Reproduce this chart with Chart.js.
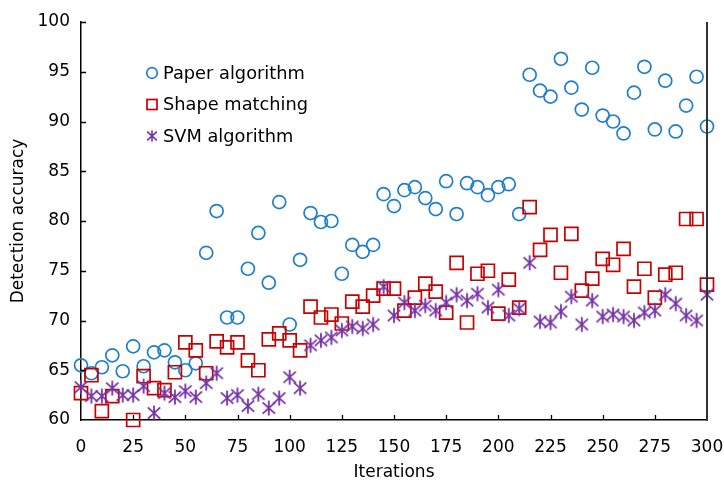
<!DOCTYPE html>
<html>
<head>
<meta charset="utf-8">
<script src="https://cdn.jsdelivr.net/npm/chart.js@4.4.1/dist/chart.umd.min.js"></script>
<style>
  html, body { margin: 0; padding: 0; background: #fff; }
  #wrap { width: 724px; height: 480px; position: relative; }
</style>
</head>
<body>
<div id="wrap"><canvas id="c" width="724" height="480"></canvas></div>
<script>
// ---- data ----
const iterations = [0,5,10,15,20,25,30,35,40,45,50,55,60,65,70,75,80,85,90,95,100,105,110,115,120,125,130,135,140,145,150,155,160,165,170,175,180,185,190,195,200,205,210,215,220,225,230,235,240,245,250,255,260,265,270,275,280,285,290,295,300];
const paperAlgorithm = [65.5,64.7,65.3,66.5,64.9,67.4,65.4,66.8,67.0,65.8,65.0,65.7,76.8,81.0,70.3,70.3,75.2,78.8,73.8,81.9,69.6,76.1,80.8,79.9,80.0,74.7,77.6,76.9,77.6,82.7,81.5,83.1,83.4,82.3,81.2,84.0,80.7,83.8,83.4,82.6,83.4,83.7,80.7,94.7,93.1,92.5,96.3,93.4,91.2,95.4,90.6,90.0,88.8,92.9,95.5,89.2,94.1,89.0,91.6,94.5,89.5];
const shapeMatching = [62.7,64.5,60.9,62.4,null,60.0,64.4,63.2,63.0,64.8,67.8,67.0,64.7,67.9,67.3,67.8,66.0,65.0,68.1,68.7,68.0,67.0,71.4,70.3,70.6,69.7,71.9,71.4,72.5,73.2,73.2,71.0,72.3,73.7,72.9,70.8,75.8,69.8,74.7,75.0,70.7,74.1,71.3,81.4,77.1,78.6,74.8,78.7,73.0,74.2,76.2,75.6,77.2,73.4,75.2,72.3,74.6,74.8,80.2,80.2,73.6];
const svmAlgorithm = [63.3,62.4,62.4,63.2,62.5,62.5,63.4,60.7,62.7,62.3,62.9,62.3,63.7,64.7,62.2,62.5,61.4,62.6,61.2,62.2,64.3,63.2,67.5,68.0,68.3,69.0,69.4,69.2,69.6,73.4,70.5,71.8,71.0,71.5,71.0,71.8,72.6,72.0,72.7,71.3,73.1,70.5,71.2,75.8,69.9,69.8,70.9,72.4,69.6,72.0,70.4,70.6,70.4,70.0,70.8,71.0,72.6,71.7,70.5,70.0,72.6];
const seriesNames = ['Paper algorithm','Shape matching','SVM algorithm'];
const xTicks = [0,25,50,75,100,125,150,175,200,225,250,275,300];
const yTicks = [60,65,70,75,80,85,90,95,100];

const BLUE = '#1f7fcc', RED = '#c80000', PURPLE = '#7433a6';
const FONT = 'DejaVu Sans';

function toPoints(vals){ return iterations.map((x,i)=>({x:x, y:vals[i]})); }

function makeStar(size, r, dx, dy, color, lw){
  const c = document.createElement('canvas');
  c.width = size; c.height = size;
  const g = c.getContext('2d');
  const m = size/2;
  g.strokeStyle = color; g.lineWidth = lw; g.lineCap = 'butt';
  g.beginPath();
  g.moveTo(m, m - r); g.lineTo(m, m + r);
  g.moveTo(m - dx, m - dy); g.lineTo(m + dx, m + dy);
  g.moveTo(m + dx, m - dy); g.lineTo(m - dx, m + dy);
  g.stroke();
  return c;
}
const starBig = makeStar(18, 7.5, 6.2, 5.6, PURPLE, 1.8);
const starSmall = makeStar(14, 5.8, 4.8, 4.3, PURPLE, 1.6);

function zeroPad(s){ s.paddingLeft = 0; s.paddingRight = 0; s.paddingTop = 0; s.paddingBottom = 0; }

const frame = {
  id: 'frame',
  afterDraw(chart){
    const {ctx, chartArea:a, scales} = chart;
    ctx.save();
    // right spine
    ctx.strokeStyle = '#333'; ctx.lineWidth = 2;
    ctx.beginPath(); ctx.moveTo(a.right, a.top); ctx.lineTo(a.right, a.bottom+0.75); ctx.stroke();
    // inward ticks
    ctx.strokeStyle = '#000'; ctx.lineWidth = 1.3;
    ctx.beginPath();
    scales.x.ticks.forEach(t => {
      const px = Math.round(scales.x.getPixelForValue(t.value)) + 0.5;
      if (t.value === 0 || t.value === 300) return;
      ctx.moveTo(px, a.bottom); ctx.lineTo(px, a.bottom - 5);
    });
    scales.y.ticks.forEach(t => {
      const py = Math.round(scales.y.getPixelForValue(t.value)) + 0.5;
      if (t.value === 60) return;
      ctx.moveTo(a.left, py); ctx.lineTo(a.left + 5, py);
    });
    ctx.stroke();
    // legend
    const lx = a.left + 71, ly0 = a.top + 51, dy = 31.5;
    ctx.font = '17.8px "' + FONT + '"';
    ctx.textBaseline = 'middle'; ctx.fillStyle = '#000';
    chart.data.datasets.forEach((ds, i) => {
      const y = ly0 + i*dy;
      if (i === 0){
        ctx.strokeStyle = BLUE; ctx.lineWidth = 1.7;
        ctx.beginPath(); ctx.arc(lx, y, 5.3, 0, Math.PI*2); ctx.stroke();
      } else if (i === 1){
        ctx.strokeStyle = RED; ctx.lineWidth = 1.7;
        ctx.strokeRect(lx - 5, y - 5, 10, 10);
      } else {
        ctx.drawImage(starSmall, lx - 7, y - 7);
      }
      ctx.fillText(ds.label, lx + 11, y + 1);
    });
    ctx.restore();
  }
};

new Chart(document.getElementById('c'), {
  type: 'scatter',
  data: {
    datasets: [
      { label: seriesNames[0], data: toPoints(paperAlgorithm), pointStyle: 'circle', pointRadius: 6.5, pointHoverRadius: 6.5,
        borderColor: BLUE, backgroundColor: 'rgba(0,0,0,0)', pointBorderWidth: 1.7, order: 3, clip: false },
      { label: seriesNames[1], data: toPoints(shapeMatching), pointStyle: 'rect', pointRadius: 9.2, pointHoverRadius: 9.2,
        borderColor: RED, backgroundColor: 'rgba(0,0,0,0)', pointBorderWidth: 1.7, order: 2, clip: false },
      { label: seriesNames[2], data: toPoints(svmAlgorithm), pointStyle: starBig, pointRadius: 8, pointHoverRadius: 8,
        borderColor: PURPLE, backgroundColor: PURPLE, order: 1, clip: false }
    ]
  },
  options: {
    responsive: false,
    animation: false,
    events: [],
    layout: { padding: { left: 0, top: 22, right: 17, bottom: 0 } },
    plugins: { legend: { display: false }, tooltip: { enabled: false } },
    scales: {
      x: {
        type: 'linear', min: 0, max: 300,
        afterBuildTicks(s){ s.ticks = xTicks.map(v => ({value: v})); },
        afterFit(s){ s.height = 60; zeroPad(s); },
        grid: { display: false, drawTicks: false },
        border: { display: true, color: '#000', width: 1.5 },
        ticks: { padding: 17, color: '#000', font: { family: FONT, size: 17 }, maxRotation: 0 },
        title: { display: true, text: 'Iterations', color: '#000', font: { family: FONT, size: 17 }, padding: { top: 6, bottom: -3 } }
      },
      y: {
        min: 60, max: 100,
        afterBuildTicks(s){ s.ticks = yTicks.map(v => ({value: v})); },
        afterFit(s){ s.width = 81; zeroPad(s); },
        grid: { display: false, drawTicks: false },
        border: { display: true, color: '#000', width: 1.5 },
        ticks: { padding: 11, color: '#000', font: { family: FONT, size: 17 } },
        title: { display: true, text: 'Detection accuracy', color: '#000', font: { family: FONT, size: 17 }, padding: { top: 8, bottom: 4 } }
      }
    }
  },
  plugins: [frame]
});
</script>
</body>
</html>
